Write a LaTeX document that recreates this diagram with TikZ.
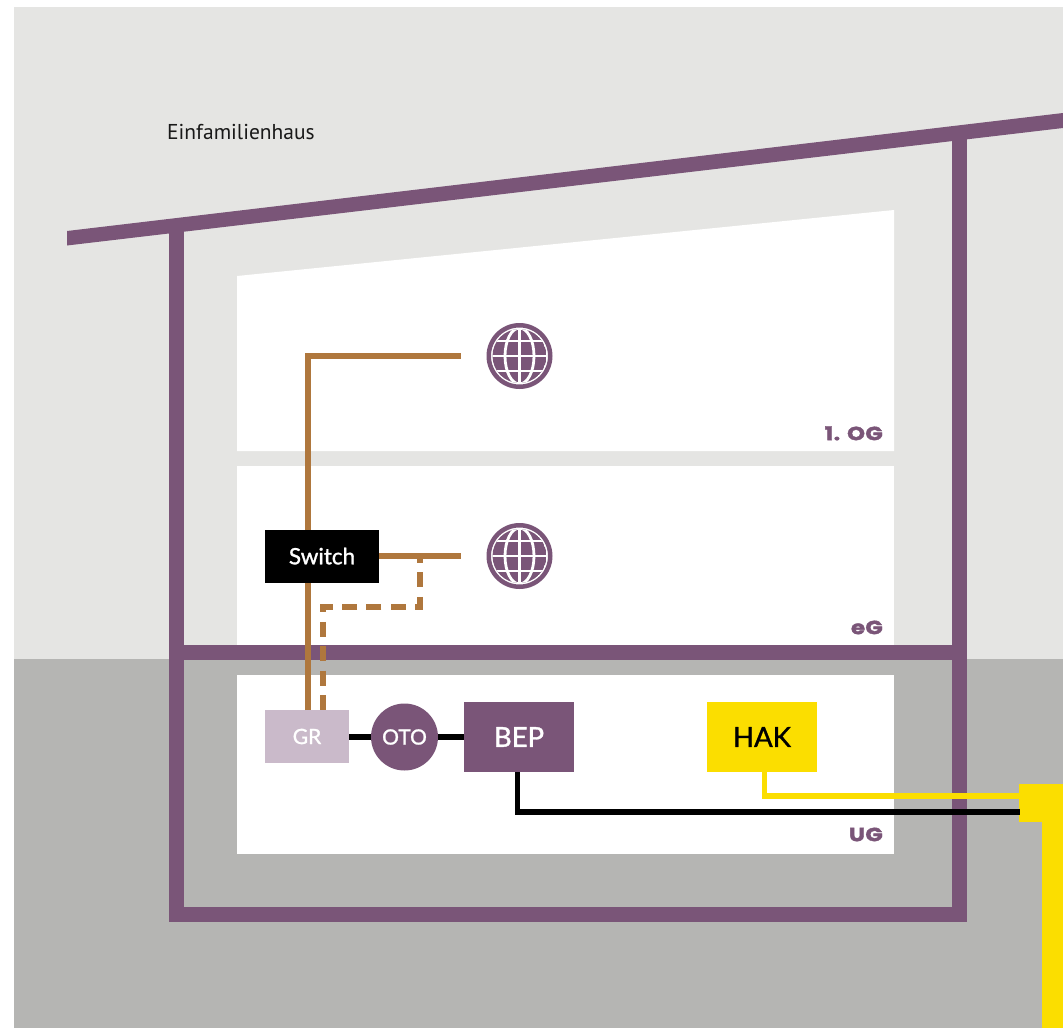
\documentclass[tikz,border=0pt]{standalone}
\usepackage{fontspec}
\setmainfont{Lato}
\newfontfamily\ptfont{PT Sans}
\newfontfamily\medfont[FakeBold=1.3]{Lato}
\newfontfamily\heavyfont[FakeBold=2,FakeStretch=1.2,LetterSpace=2]{Poppins Bold}
\definecolor{lightbg}{HTML}{E5E5E3}
\definecolor{darkbg}{HTML}{B5B5B3}
\definecolor{plum}{HTML}{7A5578}
\definecolor{palep}{HTML}{CABACA}
\definecolor{brownl}{HTML}{AF773D}
\definecolor{yell}{HTML}{FBDE00}
\tikzset{
  wall/.style={fill=plum,draw=none},
  room/.style={fill=white,draw=none},
  boxn/.style={draw=none,inner sep=0pt,align=center,font=\medfont\fontsize{27.5}{27.5}\selectfont},
  smallb/.style={boxn,font=\medfont\fontsize{22.5}{22.5}\selectfont},
  tinyb/.style={boxn,font=\medfont\fontsize{21}{21}\selectfont},
  floorlabel/.style={anchor=south east,inner sep=0pt,text=plum,font=\heavyfont\fontsize{19}{19}\selectfont},
  brownline/.style={draw=brownl,line width=5.5pt},
  brownd/.style={draw=brownl,line width=5.5pt,dash pattern=on 15pt off 9.4pt,dash phase=8pt},
  blackline/.style={draw=black,line width=5.5pt},
  yellline/.style={draw=yell,line width=5.5pt},
  globering/.style={circle,draw=plum,line width=4.5pt,fill=white,minimum size=61.5pt,inner sep=0pt},
  gridline/.style={white,line width=2.8pt},
}
\newcommand{\globeat}[2]{%
  \node[globering] (#2) at (#1) {};
  \begin{scope}
    \clip (#1) circle (27pt);
    \fill[plum] (#1) circle (27pt);
    \draw[gridline] ($(#1)+(0,-30)$) -- ($(#1)+(0,30)$);
    \draw[gridline] ($(#1)+(-30,0)$) -- ($(#1)+(30,0)$);
    \draw[gridline] ($(#1)+(-30,-15)$) -- ($(#1)+(30,-15)$);
    \draw[gridline] ($(#1)+(-30,15)$) -- ($(#1)+(30,15)$);
    \draw[gridline] (#1) ellipse [x radius=14.5pt,y radius=28pt];
  \end{scope}}
\usetikzlibrary{calc}
\begin{document}
\begin{tikzpicture}[x=1pt,y=-1pt]
\useasboundingbox (0,0) rectangle (1063,1028);
\fill[lightbg] (14,7) rectangle (1063,660);
\fill[darkbg] (14,659) rectangle (1063,1028);
\fill[room] (237,276) -- (894,210) -- (894,451) -- (237,451) -- cycle;
\fill[room] (237,466) rectangle (894,645);
\fill[room] (237,675) rectangle (894,854);
\fill[wall] (67,231) -- (1063,113) -- (1063,128) -- (67,245.5) -- cycle;
\fill[wall] (169,228) rectangle (184,922);
\fill[wall] (952,135) rectangle (967,922);
\fill[wall] (169,907) rectangle (967,922);
\fill[wall] (169,645) rectangle (967,660);
\node[anchor=base west,inner sep=0pt,font=\ptfont\fontsize{21.5}{21.5}\selectfont,text=black!90] (title) at (167,139) {Einfamilienhaus};
\node[floorlabel] (og) at (883,440.5) {1. OG};
\node[floorlabel] (eg) at (883,634.5) {eG};
\node[floorlabel] (ug) at (883,841.5) {UG};
\fill[yell] (1042,784) rectangle (1063,1028);
\node[fill=yell,draw=none,minimum width=44pt,minimum height=38pt,inner sep=0pt] (entry) at (1041,803) {};
\node[tinyb,fill=palep,text=white,minimum width=84pt,minimum height=53pt] (gr) at (307,736.5) {GR};
\node[tinyb,circle,fill=plum,text=white,minimum size=67pt] (oto) at (404.5,737) {OTO};
\node[boxn,fill=plum,text=white,minimum width=110pt,minimum height=70pt] (bep) at (519,737) {BEP};
\node[boxn,fill=yell,text=black,minimum width=110pt,minimum height=70pt] (hak) at (762,737) {HAK};
\node[smallb,fill=black,text=white,minimum width=114pt,minimum height=53pt] (switch) at (322,556.5) {\raisebox{1pt}{Switch}};
\globeat{519.5,356}{globeA}
\globeat{519.5,556}{globeB}
\coordinate (ogEnd) at (461,356);
\coordinate (egEnd) at (461,556);
\coordinate (grTop) at (308,710);
\coordinate (grDash) at (323,710);
\coordinate (tee) at (420,556);
\coordinate (c1) at (420,607);
\coordinate (c2) at (323,607);
\coordinate (swL) at (379,556);
\coordinate (bepOut) at (517.5,772);
\coordinate (bepBend) at (517.5,812);
\coordinate (bepIn) at (1020,812);
\coordinate (hakOut) at (764.5,772);
\coordinate (hakBend) at (764.5,796);
\coordinate (hakIn) at (1020,796);
\draw[brownline] (grTop) -- (switch.south -| grTop);
\draw[brownline] (switch.north -| grTop) -- (grTop |- ogEnd) -- (ogEnd);
\draw[brownline] (swL) -- (egEnd);
\draw[brownd] (tee) -- (c1) -- (c2) -- (grDash);
\draw[blackline] (gr.east |- oto) -- (oto.west);
\draw[blackline] (oto.east) -- (bep.west);
\draw[blackline] (bepOut) -- (bepBend) -- (bepIn);
\draw[yellline] (hakOut) -- (hakBend) -- (hakIn);
\end{tikzpicture}
\end{document}
